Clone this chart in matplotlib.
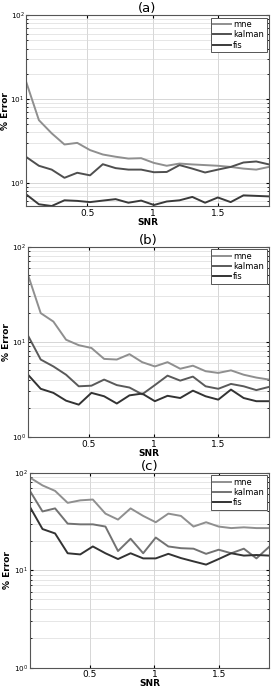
import matplotlib
matplotlib.use('Agg')
import matplotlib.pyplot as plt
import numpy as np

snr = np.linspace(0.033, 1.89, 20)
xticks = [0.5, 1, 1.5]
xtick_labels = ['0.5', '1', '1.5']
titles = ['(a)', '(b)', '(c)']
series_names = ['mne', 'kalman', 'fis']

mne_a = [16.1, 5.6, 3.9, 2.87, 3.0, 2.46, 2.18, 2.05, 1.95, 1.97,
         1.73, 1.6, 1.7, 1.66, 1.63, 1.6, 1.55, 1.48, 1.44, 1.55]
kalman_a = [2.04, 1.6, 1.44, 1.15, 1.32, 1.23, 1.67, 1.5, 1.44, 1.44,
            1.34, 1.35, 1.63, 1.48, 1.33, 1.44, 1.55, 1.75, 1.8, 1.66]
fis_a = [0.73, 0.556, 0.53, 0.62, 0.61, 0.59, 0.615, 0.64, 0.58, 0.615,
         0.545, 0.6, 0.62, 0.68, 0.58, 0.67, 0.59, 0.71, 0.7, 0.69]

mne_b = [50.5, 20, 16.3, 10.5, 9.2, 8.6, 6.6, 6.5, 7.4, 6.1,
         5.5, 6.1, 5.2, 5.6, 4.9, 4.7, 5.0, 4.5, 4.2, 4.0]
kalman_b = [11.6, 6.5, 5.5, 4.5, 3.4, 3.45, 4.0, 3.5, 3.3, 2.8,
            3.5, 4.4, 3.9, 4.3, 3.4, 3.2, 3.6, 3.4, 3.1, 3.35]
fis_b = [4.5, 3.2, 2.9, 2.4, 2.18, 2.9, 2.67, 2.24, 2.73, 2.85,
         2.37, 2.7, 2.56, 3.06, 2.67, 2.46, 3.14, 2.56, 2.37, 2.37]

mne_c = [89, 74, 65, 49, 52, 53, 38, 33, 43, 36,
         31, 38, 36, 28, 31, 28, 27, 27.5, 27, 27]
kalman_c = [65, 40, 43, 30, 29.5, 29.5, 28, 15.7, 21, 14.9,
            21.6, 17.5, 16.8, 16.6, 14.7, 16.2, 14.9, 16.6, 13.2, 17.3]
fis_c = [44.5, 26.4, 23.8, 14.9, 14.5, 17.5, 14.9, 13.0, 14.9, 13.2,
         13.2, 14.7, 13.3, 12.3, 11.4, 13.0, 14.9, 14.1, 14.3, 14.1]

panels = [
    (mne_a, kalman_a, fis_a),
    (mne_b, kalman_b, fis_b),
    (mne_c, kalman_c, fis_c),
]
ylims = [(0.53, 100), (1, 100), (1, 100)]
colors = [
    ['#8f8f8f', '#4f4f4f', '#3a3a3a'],
    ['#8f8f8f', '#5a5a5a', '#333333'],
    ['#8f8f8f', '#727272', '#333333'],
]
positions = [
    [0.096, 0.701, 0.893, 0.277],
    [0.103, 0.366, 0.886, 0.276],
    [0.110, 0.031, 0.879, 0.283],
]
label_x_px = [10, 11, 12]
W = 272

fig = plt.figure(figsize=(2.72, 6.89), dpi=100)

for i, series in enumerate(panels):
    ax = fig.add_axes(positions[i])
    for name, vals, c in zip(series_names, series, colors[i]):
        ax.plot(snr, vals, color=c, lw=1.4, label=name)
    ax.set_yscale('log')
    ax.set_xlim(snr[0], snr[-1])
    ax.set_ylim(*ylims[i])
    ax.set_yticks([1, 10, 100])
    ax.set_xticks(xticks)
    ax.set_xticklabels(xtick_labels)
    ax.grid(True, which='major', color='#d0d0d0', lw=0.6)
    ax.grid(True, which='minor', axis='y', color='#dcdcdc', lw=0.5)
    ax.tick_params(which='both', direction='in', labelsize=6.5, pad=2,
                   top=True, right=True)
    ax.tick_params(axis='y', labelsize=5.2, pad=1.2)
    ax.tick_params(which='major', length=2.5)
    ax.tick_params(which='minor', length=1.5)
    ax.set_xlabel('SNR', fontsize=6.5, fontweight='bold', labelpad=0)
    ax.set_ylabel('% Error', fontsize=6.5, fontweight='bold')
    left_px = positions[i][0] * W
    width_px = positions[i][2] * W
    ax.yaxis.set_label_coords((label_x_px[i] - left_px) / width_px, 0.5)
    ax.set_title(titles[i], fontsize=9.5, pad=1.5)
    for sp in ax.spines.values():
        sp.set_color('#555555')
        sp.set_linewidth(0.8)
    leg = ax.legend(loc='upper right', fontsize=6, handlelength=2.2,
                    handletextpad=0.2, borderpad=0.3, labelspacing=0.15,
                    fancybox=False, framealpha=1, borderaxespad=0.3)
    leg.get_frame().set_edgecolor('#555555')
    leg.get_frame().set_linewidth(0.7)

fig.savefig('out.png', dpi=100)
